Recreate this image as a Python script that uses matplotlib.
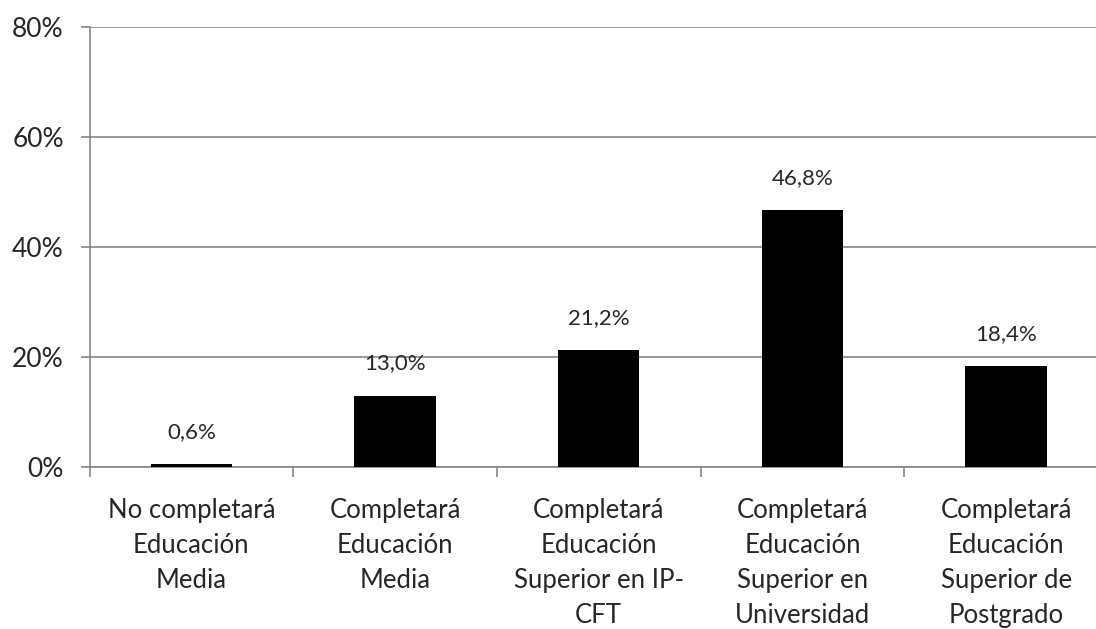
import matplotlib.pyplot as plt
import numpy as np

categorias = ["No completará\nEducación\nMedia",
              "Completará\nEducación\nMedia",
              "Completará\nEducación\nSuperior en IP-\nCFT",
              "Completará\nEducación\nSuperior en\nUniversidad",
              "Completará\nEducación\nSuperior de\nPostgrado"]
valores = [0.6, 13.0, 21.2, 46.8, 18.4]
etiquetas = ["0,6%", "13,0%", "21,2%", "46,8%", "18,4%"]
yticks = [0, 20, 40, 60, 80]

plt.rcParams['font.family'] = ['Lato', 'DejaVu Sans']
gris = '#868686'
texto = '#262626'

fig = plt.figure(figsize=(10.96, 6.29), dpi=100)
ax = fig.add_axes([89.5 / 1096, 162 / 629, (1108 - 89.5) / 1096, 440 / 629])

x = np.arange(len(categorias))
ax.bar(x, valores, width=0.4, color='black', zorder=3)

for xi, v, t in zip(x, valores, etiquetas):
    ax.annotate(t, (xi, v), xytext=(0, 22), textcoords='offset pixels',
                ha='center', va='bottom', fontsize=16, color=texto)

ax.set_xlim(-0.5, len(categorias) - 0.5)
ax.set_ylim(0, 80)
ax.set_yticks(yticks)
ax.set_yticklabels([f"{v}%" for v in yticks], fontsize=19, color=texto)
ax.yaxis.grid(True, color=gris, linewidth=1.2, zorder=0)

ax.set_xticks(x)
ax.set_xticklabels(categorias, fontsize=18.5, color=texto, linespacing=1.5)
ax.tick_params(axis='x', length=0, pad=22)
ax.set_xticks(np.arange(-0.5, len(categorias)), minor=True)
ax.tick_params(axis='x', which='minor', length=7, color=gris, width=1.2)
ax.tick_params(axis='y', length=6.5, color=gris, width=1.2, pad=12)

for s in ['top', 'right']:
    ax.spines[s].set_visible(False)
for s in ['left', 'bottom']:
    ax.spines[s].set_color(gris)
    ax.spines[s].set_linewidth(1.2)

fig.savefig('out.png', dpi=100)
